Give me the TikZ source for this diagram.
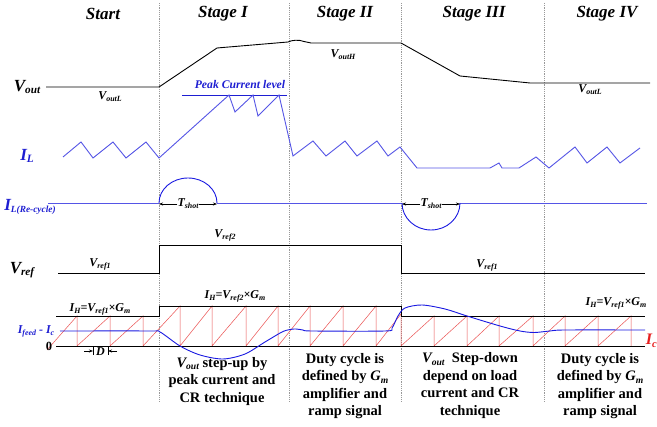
\documentclass[tikz,border=0pt]{standalone}
\usepackage{fontspec}
\setmainfont{Liberation Serif}
\usetikzlibrary{arrows.meta}
\definecolor{lblue}{RGB}{85,85,230}
\definecolor{tblue}{RGB}{30,30,210}
\definecolor{dblue}{RGB}{25,25,225}
\definecolor{rred}{RGB}{235,80,80}
\definecolor{tred}{RGB}{230,30,30}
\newcommand{\lowsub}[1]{\raisebox{-0.35ex}{\scalebox{0.66}{#1}}}
\newcommand{\fsz}[1]{\fontsize{#1}{#1}\selectfont}
\begin{document}
\begin{tikzpicture}[x=1pt,y=-1pt,
  title/.style={font=\fsz{17}\bfseries\itshape, inner sep=0pt},
  biglab/.style={font=\fsz{17}\bfseries\itshape, inner sep=0pt},
  smlab/.style={font=\fsz{12}\bfseries\itshape, inner sep=0pt},
  desc/.style={font=\fontsize{14.5}{17.4}\selectfont\bfseries, align=center, inner sep=0pt},
  divider/.style={gray!80, line width=0.5pt, dash pattern=on 1.2pt off 1pt},
  vwave/.style={black, line width=0.9pt},
  iwave/.style={lblue, line width=0.9pt},
  saw/.style={rred, line width=0.5pt},
  darr/.style={-{Stealth[length=4pt,width=3pt]}, line width=0.6pt}]
\useasboundingbox (0,0) rectangle (657,427);
\fill[white] (0,0) rectangle (657,427);

% stage dividers
\foreach \x/\n in {159/a,289/b,401/c,544/d}{
  \coordinate (top\n) at (\x,3);
  \coordinate (bot\n) at (\x,402);
  \draw[divider] (top\n) -- (bot\n);
}

% titles
\node[title] (tStart) at (103,14) {Start};
\node[title] (tI) at (223,14) {Stage I};
\node[title] (tII) at (345,14) {Stage II};
\node[title] (tIII) at (474,14) {Stage III};
\node[title] (tIV) at (607,14) {Stage IV};

% Vout
\node[biglab] (lVout) at (27,87) {V\lowsub{out}};
\draw[vwave] (46,87) -- (159,87) -- (217,48) -- (288,42)
  .. controls (292,40) and (299,39.5) .. (304,41.5) -- (311,43) -- (401,43)
  -- (460,76) -- (530,83) -- (650,83);
\node[smlab] (lVoutL) at (110,97) {V\lowsub{outL}};
\node[smlab] (lVoutH) at (343,55) {V\lowsub{outH}};
\node[smlab] (lVoutL2) at (590,90) {V\lowsub{outL}};

% Peak current
\node[smlab, font=\fsz{11.7}\bfseries\itshape, tblue] (lPeak) at (240,85) {Peak Current level};
\draw[tblue, line width=0.9pt] (182,95) -- (287,95);

% IL
\node[biglab, tblue] (lIL) at (27,156) {I\lowsub{L}};
\draw[iwave] (63,157) -- (81,142) -- (93,158) -- (113,142) -- (126,158) -- (146,142)
  -- (159,158) -- (229,95) -- (235,112) -- (253,95) -- (258,116) -- (279,95)
  -- (293,156) -- (313,141) -- (326,156) -- (345,141) -- (357,156) -- (377,141)
  -- (388,156) -- (400,147) -- (417,168) -- (490,168) -- (499,163) -- (502,168)
  -- (519,168) -- (536,157) -- (549,168) -- (575,147) -- (587,163) -- (607,147)
  -- (620,163) -- (640,148);

% IL re-cycle
\node[font=\fsz{17}\bfseries\itshape, inner sep=0pt, tblue] (lILr) at (30,207) {I\raisebox{-0.35ex}{\scalebox{0.55}{L(Re-cycle)}}};
\draw[iwave] (48,203) -- (159,203);
\draw[iwave] (217,203) -- (402,203);
\draw[iwave] (460,203) -- (647,203);
\draw[dblue, line width=0.9pt] (159,203) .. controls (159,189.2) and (172,178) .. (188,178)
  .. controls (204,178) and (217,189.2) .. (217,203);
\draw[dblue, line width=0.9pt] (402,203) .. controls (402,218) and (415,230) .. (431,230)
  .. controls (447,230) and (460,218) .. (460,203);
\node[smlab] (ts1) at (188,204) {T\lowsub{shot}};
\draw[darr] (ts1.west) -- (159,204);
\draw[darr] (ts1.east) -- (217,204);
\node[smlab] (ts2) at (431,204) {T\lowsub{shot}};
\draw[darr] (ts2.west) -- (402,204);
\draw[darr] (ts2.east) -- (460,204);

% Vref
\node[biglab] (lVref) at (22,270) {V\lowsub{ref}};
\draw[vwave] (58,273) -- (159,273) -- (159,245) -- (401,245) -- (401,273) -- (645,273);
\node[smlab] (lVr1) at (100,264) {V\lowsub{ref1}};
\node[smlab] (lVr2) at (225,235) {V\lowsub{ref2}};
\node[smlab] (lVr1b) at (487,265) {V\lowsub{ref1}};

% bottom section
\draw[saw] (47,350) -- (77,316) -- (77,346) -- (110,316) -- (110,346) -- (143,316)
  -- (143,346) -- (180,306) -- (180,346) -- (212,306) -- (212,346) -- (246,306)
  -- (246,346) -- (278,306) -- (278,346) -- (310,306) -- (310,346) -- (343,306)
  -- (343,346) -- (376,306) -- (376,346) -- (401,314) -- (401,346) -- (434,316)
  -- (434,346) -- (467,316) -- (467,346) -- (499,316) -- (499,346) -- (533,316)
  -- (533,346) -- (565,316) -- (565,346) -- (598,316) -- (598,346) -- (631,316)
  -- (631,346);
\draw[vwave] (56,316) -- (159,316) -- (159,306) -- (401,306) -- (401,316) -- (645,316);
\draw[vwave] (56,346) -- (645,346);
\draw[dblue, line width=0.9pt] plot[smooth, tension=0.5] coordinates {
  (60,331) (150,331) (160,332) (180,346) (200,355) (223,359) (245,354) (265,342)
  (282,332) (290,329.5) (296,329) (303,330) (312,331) (385,331) (392,328) (398,316)
  (405,308) (422,305) (445,309) (467,316) (500,326) (520,331) (534,332.5) (550,331)
  (565,330) (645,330)};

\node[smlab] (lIH1) at (100,309) {I\lowsub{H}=V\lowsub{ref1}×G\lowsub{m}};
\node[smlab] (lIH2) at (235,296) {I\lowsub{H}=V\lowsub{ref2}×G\lowsub{m}};
\node[smlab] (lIH3) at (616,303) {I\lowsub{H}=V\lowsub{ref1}×G\lowsub{m}};
\node[font=\fsz{12.5}\bfseries, inner sep=0pt] (lZero) at (49,346) {0};
\node[font=\fsz{12}\bfseries\itshape, inner sep=0pt, tblue] (lIfeed) at (36,331) {I\lowsub{feed} - I\lowsub{c}};
\node[font=\fsz{16}\bfseries\itshape, inner sep=0pt, tred, anchor=east] (lIc) at (657,341) {I\lowsub{c}};

% D marker
\coordinate (d1t) at (93,347); \coordinate (d1b) at (93,355);
\coordinate (d2t) at (108,347); \coordinate (d2b) at (108,355);
\coordinate (d1a) at (84,351); \coordinate (d1e) at (93,351);
\coordinate (d2a) at (117,351); \coordinate (d2e) at (108,351);
\draw[line width=0.5pt] (d1t) -- (d1b) (d2t) -- (d2b);
\draw[darr] (d1a) -- (d1e);
\draw[darr] (d2a) -- (d2e);
\node[smlab] (lD) at (100.5,352) {D};

% descriptions
\node[desc] (dI) at (222,381.5) {{\itshape V\lowsub{out}} step-up by\\peak current and\\CR technique};
\node[desc] (dII) at (345,386) {Duty cycle is\\defined by {\itshape G\lowsub{m}}\\amplifier and\\ramp signal};
\node[desc] (dIII) at (470,385.5) {{\itshape V\lowsub{out}}\ \ Step-down\\depend on load\\current and CR\\technique};
\node[desc] (dIV) at (600,386) {Duty cycle is\\defined by {\itshape G\lowsub{m}}\\amplifier and\\ramp signal};
\end{tikzpicture}
\end{document}
